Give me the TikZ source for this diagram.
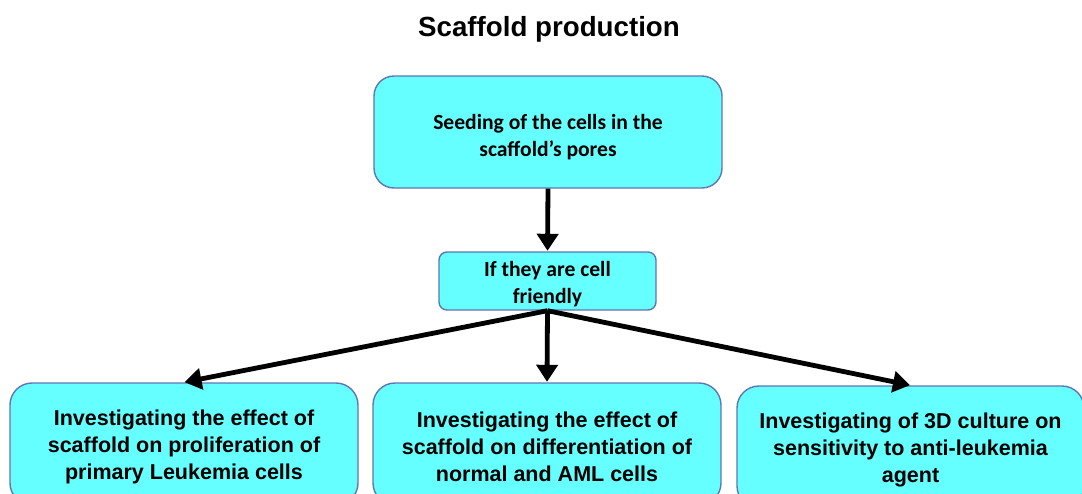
\documentclass[tikz,border=0pt]{standalone}
\usepackage{fontspec}
\setmainfont{Liberation Sans}
\newfontfamily\calib{Carlito}
\usepackage{tikz}
\usetikzlibrary{arrows.meta,positioning}
\definecolor{boxfill}{RGB}{102,255,255}
\definecolor{boxline}{RGB}{96,118,178}

\begin{document}
\begin{tikzpicture}[x=1pt,y=-1pt,
  stepbox/.style={draw=boxline,line width=1.4pt,fill=boxfill,align=center,inner sep=0pt},
  calibtext/.style={font=\calib\fontsize{21.6}{27}\selectfont\bfseries},
  arialtext/.style={font=\fontsize{21.5}{27}\selectfont\bfseries},
  flow/.style={line width=4.8pt,-{Triangle[length=17pt,width=21pt]},shorten >=0.5pt}]
%page frame and clipping of the lower boxes
\useasboundingbox (0,0) rectangle (1082,493);
\clip (0,0) rectangle (1082,493);
%title
\node[font=\fontsize{27.7}{33}\selectfont\bfseries] (title) at (549,29) {Scaffold production};
%upper boxes (text height pushes the lines a bit lower)
\node[stepbox,calibtext,text height=52pt,rounded corners=20pt,minimum width=348pt,minimum height=112pt] (seed) at (548,132)
  {Seeding of the cells in the\\ scaffold’s pores};
\node[stepbox,calibtext,text height=48pt,rounded corners=8pt,minimum width=217pt,minimum height=58pt] (friendly) at (547.5,281)
  {If they are cell\\ friendly};
%lower boxes, running past the bottom edge
\node[stepbox,arialtext,text height=76pt,rounded corners=22pt,minimum width=348pt,minimum height=122pt] (prolif) at (184,444)
  {Investigating the effect of\\ scaffold on proliferation of\\ primary Leukemia cells};
\node[stepbox,arialtext,text height=76pt,rounded corners=22pt,minimum width=348pt,minimum height=122pt] (diff) at (547,444)
  {Investigating the effect of\\ scaffold on differentiation of\\ normal and AML cells};
\node[stepbox,arialtext,text height=75pt,rounded corners=22pt,minimum width=347pt,minimum height=122pt] (culture) at (910.5,447)
  {Investigating of 3D culture on\\ sensitivity to anti-leukemia\\ agent};
%arrows
\draw[flow] (seed.south) -- (friendly.north);
\draw[flow] (friendly.south) -- (prolif.north);
\draw[flow] (friendly.south) -- (diff.north);
\draw[flow] (friendly.south) -- (culture.north);
\end{tikzpicture}
\end{document}
